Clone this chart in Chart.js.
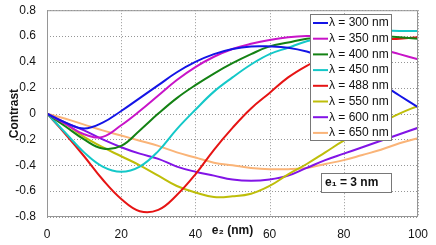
<!DOCTYPE html>
<html>
<head>
<meta charset="utf-8">
<script src="https://cdn.jsdelivr.net/npm/chart.js@4"></script>
<style>
  body { margin: 0; background: #fff; }
  #wrap { width: 436px; height: 245px; }
</style>
</head>
<body>
<div id="wrap"><canvas id="myChart" width="436" height="245"></canvas></div>
<script>
const e2 = [0, 5, 10, 15, 20, 25, 30, 35, 40, 45, 50, 55, 60, 65, 70, 75, 80, 85, 90, 95, 100];

const c300 = [0, -0.07, -0.115, -0.07, 0.02, 0.12, 0.22, 0.32, 0.40, 0.46, 0.50, 0.52, 0.52, 0.51, 0.48, 0.43, 0.37, 0.30, 0.23, 0.14, 0.05];
const c350 = [0, -0.08, -0.16, -0.18, -0.09, 0.02, 0.14, 0.26, 0.36, 0.44, 0.50, 0.54, 0.57, 0.59, 0.60, 0.60, 0.58, 0.55, 0.50, 0.46, 0.42];
const c400 = [0, -0.10, -0.20, -0.27, -0.25, -0.13, 0.0, 0.12, 0.22, 0.31, 0.39, 0.46, 0.52, 0.55, 0.58, 0.59, 0.60, 0.60, 0.60, 0.59, 0.58];
const c450 = [0, -0.15, -0.30, -0.41, -0.45, -0.41, -0.29, -0.12, 0.03, 0.17, 0.28, 0.38, 0.46, 0.51, 0.56, 0.59, 0.61, 0.63, 0.64, 0.64, 0.64];
const c488 = [0, -0.16, -0.33, -0.51, -0.66, -0.755, -0.745, -0.63, -0.47, -0.28, -0.11, 0.04, 0.16, 0.28, 0.37, 0.44, 0.50, 0.54, 0.57, 0.58, 0.59];
const c550 = [0, -0.08, -0.18, -0.26, -0.33, -0.40, -0.48, -0.56, -0.61, -0.645, -0.64, -0.62, -0.56, -0.47, -0.39, -0.30, -0.21, -0.14, -0.07, 0.0, 0.06];
const c600 = [0, -0.07, -0.13, -0.20, -0.26, -0.31, -0.35, -0.41, -0.45, -0.48, -0.51, -0.52, -0.51, -0.48, -0.42, -0.36, -0.31, -0.26, -0.21, -0.16, -0.11];
const c650 = [0, -0.04, -0.085, -0.13, -0.17, -0.21, -0.25, -0.30, -0.34, -0.38, -0.40, -0.42, -0.43, -0.43, -0.42, -0.39, -0.36, -0.32, -0.28, -0.23, -0.19];

const seriesLabels = ['λ = 300 nm', 'λ = 350 nm', 'λ = 400 nm', 'λ = 450 nm', 'λ = 488 nm', 'λ = 550 nm', 'λ = 600 nm', 'λ = 650 nm'];
const seriesValues = [c300, c350, c400, c450, c488, c550, c600, c650];
const seriesColors = ['rgb(20, 20, 230)', 'rgb(200, 20, 200)', 'rgb(20, 130, 20)', 'rgb(20, 200, 200)', 'rgb(230, 20, 20)', 'rgb(190, 190, 10)', 'rgb(130, 20, 230)', 'rgb(250, 180, 120)'];

const xTicks = [0, 20, 40, 60, 80, 100];
const yTicks = [-0.8, -0.6, -0.4, -0.2, 0, 0.2, 0.4, 0.6, 0.8];
const noteText = 'e₁ = 3 nm';

const FONT = 'Liberation Sans, Arial, sans-serif';

// dotted grid, matlab style
const dottedGrid = {
  id: 'dottedGrid',
  beforeDatasetsDraw(chart) {
    const ctx = chart.ctx;
    const a = chart.chartArea;
    const sx = chart.scales.x, sy = chart.scales.y;
    ctx.save();
    ctx.strokeStyle = 'rgb(150,150,150)';
    ctx.lineWidth = 1;
    ctx.setLineDash([1, 2]);
    sx.ticks.forEach(t => {
      const px = Math.round(sx.getPixelForValue(t.value)) + 0.5;
      ctx.beginPath();
      ctx.moveTo(px, a.top);
      ctx.lineTo(px, a.bottom);
      ctx.stroke();
    });
    sy.ticks.forEach(t => {
      const py = Math.round(sy.getPixelForValue(t.value)) + 0.5;
      ctx.beginPath();
      ctx.moveTo(a.left, py);
      ctx.lineTo(a.right, py);
      ctx.stroke();
    });
    ctx.restore();
  }
};

const insideLegend = {
  id: 'insideLegend',
  afterDraw(chart) {
    const ctx = chart.ctx;
    const a = chart.chartArea;
    ctx.save();
    // box round the plot
    ctx.setLineDash([]);
    ctx.strokeStyle = 'rgb(150,150,150)';
    ctx.lineWidth = 1;
    ctx.strokeRect(a.left + 0.5, a.top + 0.5, a.right - a.left - 1, a.bottom - a.top - 1);

    // legend
    const lx = 310, ly = 14, lw = 81, lh = 126;
    ctx.fillStyle = '#fff';
    ctx.fillRect(lx, ly, lw, lh);
    ctx.strokeStyle = 'rgb(120,120,120)';
    ctx.strokeRect(lx + 0.5, ly + 0.5, lw, lh);
    ctx.font = '12px ' + FONT;
    ctx.textBaseline = 'middle';
    chart.data.datasets.forEach((ds, i) => {
      const y = ly + 9 + i * 15.7;
      ctx.strokeStyle = ds.borderColor;
      ctx.lineWidth = 2;
      ctx.beginPath();
      ctx.moveTo(lx + 3, y);
      ctx.lineTo(lx + 18, y);
      ctx.stroke();
      ctx.fillStyle = '#111';
      ctx.fillText(ds.label, lx + 19, y);
    });

    // note box
    const nx = 321, ny = 173, nw = 70, nh = 19;
    ctx.fillStyle = '#fff';
    ctx.fillRect(nx, ny, nw, nh);
    ctx.strokeStyle = 'rgb(120,120,120)';
    ctx.lineWidth = 1;
    ctx.strokeRect(nx + 0.5, ny + 0.5, nw, nh);
    ctx.font = 'bold 12px ' + FONT;
    ctx.fillStyle = '#111';
    ctx.fillText(noteText, nx + 4, ny + 10);
    ctx.restore();
  }
};

const ctx = document.getElementById('myChart').getContext('2d');
new Chart(ctx, {
  type: 'line',
  data: {
    datasets: seriesLabels.map((label, i) => ({
      label: label,
      data: e2.map((x, j) => ({ x: x, y: seriesValues[i][j] })),
      borderColor: seriesColors[i],
      backgroundColor: seriesColors[i],
      borderWidth: 2,
      pointRadius: 0,
      tension: 0.4,
      fill: false,
    })),
  },
  options: {
    responsive: false,
    animation: false,
    layout: { padding: { top: 10, right: 18, left: 0, bottom: 0 } },
    plugins: {
      legend: { display: false },
      tooltip: { enabled: false },
    },
    scales: {
      x: {
        type: 'linear',
        min: 0,
        max: 100,
        afterFit: (s) => { s.height = 28; },
        afterBuildTicks: (s) => { s.ticks = xTicks.map(v => ({ value: v })); },
        grid: { display: false },
        border: { display: false },
        ticks: {
          color: 'rgb(20, 20, 20)',
          font: { family: FONT, size: 12 },
          padding: 2,
          maxRotation: 0,
        },
        title: {
          display: true,
          text: 'e₂ (nm)',
          color: 'rgb(20, 20, 20)',
          font: { family: FONT, size: 12, weight: 'bold' },
          padding: { top: 0, bottom: 7 },
        },
      },
      y: {
        min: -0.8,
        max: 0.8,
        afterFit: (s) => { s.width = 47; },
        afterBuildTicks: (s) => { s.ticks = yTicks.map(v => ({ value: v })); },
        grid: { display: false },
        border: { display: false },
        ticks: {
          color: 'rgb(20, 20, 20)',
          font: { family: FONT, size: 12 },
          padding: 3,
          callback: (v) => (Math.abs(v) < 1e-9 ? '0' : v.toFixed(1)),
        },
        title: {
          display: true,
          text: 'Contrast',
          color: 'rgb(20, 20, 20)',
          font: { family: FONT, size: 12, weight: 'bold' },
          padding: { top: 7, bottom: 0 },
        },
      },
    },
  },
  plugins: [dottedGrid, insideLegend],
});
</script>
</body>
</html>
